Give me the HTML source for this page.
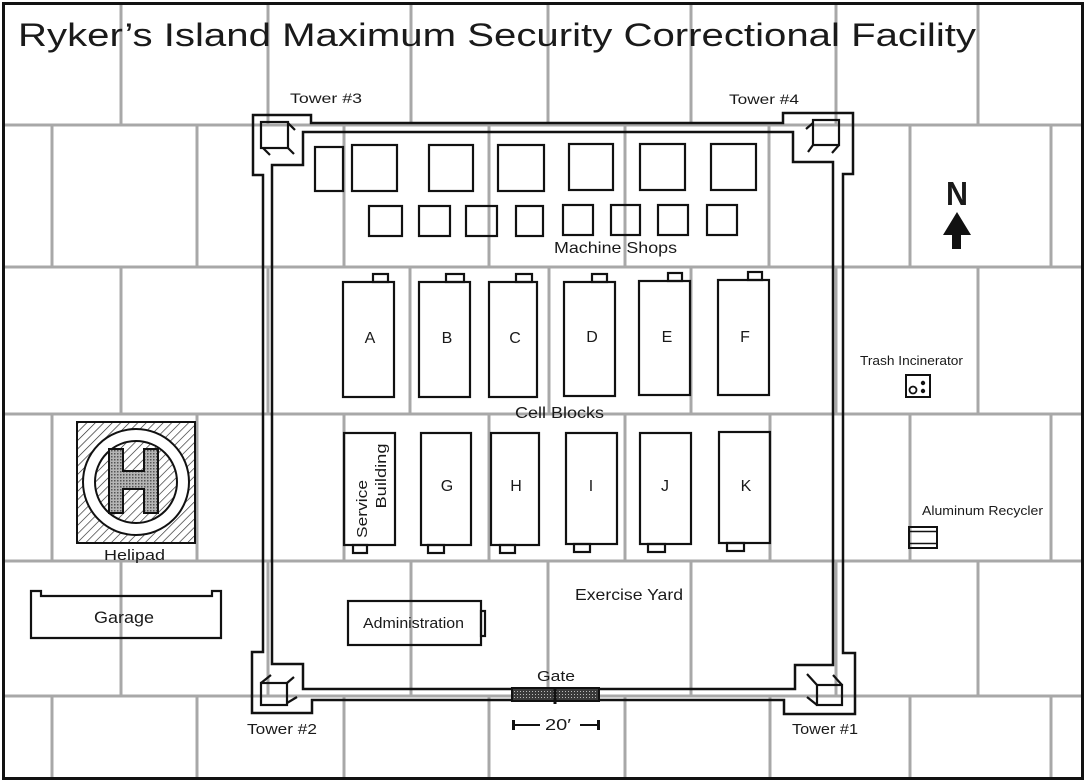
<!DOCTYPE html>
<html>
<head>
<meta charset="utf-8">
<style>
  html, body { margin: 0; padding: 0; background: #fff; }
  svg { display: block; }
  text { font-family: "Liberation Sans", Arial, sans-serif; fill: #1a1a1a; }
</style>
</head>
<body>
<svg width="1086" height="782" viewBox="0 0 1086 782" xmlns="http://www.w3.org/2000/svg">
  <defs>
    <pattern id="hatch" width="6" height="6" patternUnits="userSpaceOnUse" patternTransform="rotate(45)">
      <rect width="6" height="6" fill="#fff"/>
      <line x1="0" y1="0" x2="0" y2="6" stroke="#222" stroke-width="1.3"/>
    </pattern>
    <pattern id="stip" width="3" height="3" patternUnits="userSpaceOnUse">
      <rect width="3" height="3" fill="#b5b5b5"/>
      <rect x="0" y="0" width="1.5" height="1.5" fill="#555"/>
    </pattern>
    <pattern id="gatep" width="3" height="3" patternUnits="userSpaceOnUse">
      <rect width="3" height="3" fill="#3a3a3a"/>
      <rect x="1" y="1" width="1" height="1" fill="#bbb"/>
    </pattern>
  </defs>

  <rect x="0" y="0" width="1086" height="782" fill="#fff"/>

  <!-- grid -->
  <g stroke="#a8a8a8" stroke-width="3" fill="none">
    <path d="M3 125H1083 M3 267H1083 M3 414H1083 M3 561H1083 M3 696H1083"/>
    <!-- row A -->
    <path d="M121 3V125 M268 3V125 M411 3V125 M548 3V125 M691 3V125 M836 3V125 M978 3V125"/>
    <!-- row B -->
    <path d="M52 125V267 M197 125V267 M344 125V267 M489 125V267 M625 125V267 M769 125V267 M910 125V267 M1051 125V267"/>
    <!-- row C -->
    <path d="M121 267V414 M268 267V414 M410 267V414 M549 267V414 M691 267V414 M836 267V414 M978 267V414"/>
    <!-- row D -->
    <path d="M52 414V561 M197 414V561 M344 414V561 M489 414V561 M625 414V561 M770 414V561 M910 414V561 M1051 414V561"/>
    <!-- row E -->
    <path d="M121 561V696 M268 561V696 M411 561V696 M548 561V696 M691 561V696 M836 561V696 M978 561V696"/>
    <!-- row F -->
    <path d="M52 696V779 M197 696V779 M344 696V779 M489 696V779 M625 696V779 M770 696V779 M910 696V779 M1051 696V779"/>
  </g>

  <!-- outer border -->
  <rect x="3.5" y="3.5" width="1079" height="775" fill="none" stroke="#111" stroke-width="3"/>

  <!-- title -->
  <text x="18" y="46" font-size="32" textLength="958" lengthAdjust="spacingAndGlyphs">Ryker’s Island  Maximum Security Correctional Facility</text>

  <!-- prison walls -->
  <g fill="none" stroke="#111" stroke-width="2.5" stroke-linejoin="miter">
    <path d="M253 115 H311 V123 H783 V113 H853 V174 H843 V653 H855 V714 H784 V700 H312 V713 H252 V652 H263 V175 H253 Z"/>
    <path d="M303 132 H793 V162 H833 V665 H795 V689 H303 V664 H272 V165 H303 Z"/>
  </g>

  <!-- towers -->
  <g fill="none" stroke="#111" stroke-width="2.2">
    <!-- Tower 3 -->
    <rect x="261" y="122" width="27" height="26"/>
    <path d="M288 123 L295 130 M263 148 L270 155 M288 148 L294 154"/>
    <!-- Tower 4 -->
    <rect x="813" y="120" width="26" height="25"/>
    <path d="M813 123 L806 129 M813 145 L808 152 M839 145 L832 153"/>
    <!-- Tower 2 -->
    <rect x="261" y="683" width="26" height="22"/>
    <path d="M261 683 L271 675 M287 683 L294 677 M287 703 L297 697"/>
    <!-- Tower 1 -->
    <rect x="817" y="685" width="25" height="20"/>
    <path d="M817 685 L807 674 M842 685 L833 675 M817 705 L807 697"/>
  </g>

  <!-- gate -->
  <rect x="512" y="688" width="87" height="13" fill="url(#gatep)" stroke="#111" stroke-width="2"/>
  <path d="M555 688 V704" stroke="#111" stroke-width="3"/>

  <!-- machine shops -->
  <g fill="none" stroke="#111" stroke-width="2.2">
    <rect x="315" y="147" width="28" height="44"/>
    <rect x="352" y="145" width="45" height="46"/>
    <rect x="429" y="145" width="44" height="46"/>
    <rect x="498" y="145" width="46" height="46"/>
    <rect x="569" y="144" width="44" height="46"/>
    <rect x="640" y="144" width="45" height="46"/>
    <rect x="711" y="144" width="45" height="46"/>

    <rect x="369" y="206" width="33" height="30"/>
    <rect x="419" y="206" width="31" height="30"/>
    <rect x="466" y="206" width="31" height="30"/>
    <rect x="516" y="206" width="27" height="30"/>
    <rect x="563" y="205" width="30" height="30"/>
    <rect x="611" y="205" width="29" height="30"/>
    <rect x="658" y="205" width="30" height="30"/>
    <rect x="707" y="205" width="30" height="30"/>
  </g>

  <!-- cell blocks row 1 -->
  <g fill="none" stroke="#111" stroke-width="2.2">
    <rect x="343" y="282" width="51" height="115"/><rect x="373" y="274" width="15" height="8"/>
    <rect x="419" y="282" width="51" height="115"/><rect x="446" y="274" width="18" height="8"/>
    <rect x="489" y="282" width="48" height="115"/><rect x="516" y="274" width="16" height="8"/>
    <rect x="564" y="282" width="51" height="114"/><rect x="592" y="274" width="15" height="8"/>
    <rect x="639" y="281" width="51" height="114"/><rect x="668" y="273" width="14" height="8"/>
    <rect x="718" y="280" width="51" height="115"/><rect x="748" y="272" width="14" height="8"/>
  </g>

  <!-- cell blocks row 2 -->
  <g fill="none" stroke="#111" stroke-width="2.2">
    <rect x="344" y="433" width="51" height="112"/><rect x="353" y="545" width="14" height="8"/>
    <rect x="421" y="433" width="50" height="112"/><rect x="428" y="545" width="16" height="8"/>
    <rect x="491" y="433" width="48" height="112"/><rect x="500" y="545" width="15" height="8"/>
    <rect x="566" y="433" width="51" height="111"/><rect x="574" y="544" width="16" height="8"/>
    <rect x="640" y="433" width="51" height="111"/><rect x="648" y="544" width="17" height="8"/>
    <rect x="719" y="432" width="51" height="111"/><rect x="727" y="543" width="17" height="8"/>
  </g>

  <!-- block letters -->
  <g font-size="16" text-anchor="middle">
    <text x="370" y="343">A</text>
    <text x="447" y="343">B</text>
    <text x="515" y="343">C</text>
    <text x="592" y="342">D</text>
    <text x="667" y="342">E</text>
    <text x="745" y="342">F</text>
    <text x="447" y="491">G</text>
    <text x="516" y="491">H</text>
    <text x="591" y="491">I</text>
    <text x="665" y="491">J</text>
    <text x="746" y="491">K</text>
  </g>

  <!-- service building text -->
  <text font-size="15" text-anchor="middle" transform="translate(367,509) rotate(-90)" textLength="58" lengthAdjust="spacingAndGlyphs">Service</text>
  <text font-size="15" text-anchor="middle" transform="translate(386,476) rotate(-90)" textLength="65" lengthAdjust="spacingAndGlyphs">Building</text>

  <!-- administration -->
  <g fill="none" stroke="#111" stroke-width="2.2">
    <rect x="348" y="601" width="133" height="44"/>
    <rect x="481" y="611" width="4" height="25"/>
  </g>
  <text x="363" y="628" font-size="14.5" textLength="101" lengthAdjust="spacingAndGlyphs">Administration</text>

  <!-- garage -->
  <path d="M31 591 H41 V596 H212 V591 H221 V638 H31 Z" fill="none" stroke="#111" stroke-width="2.2"/>
  <text x="94" y="623" font-size="17" textLength="60" lengthAdjust="spacingAndGlyphs">Garage</text>

  <!-- helipad -->
  <rect x="77" y="422" width="118" height="121" fill="url(#hatch)" stroke="#111" stroke-width="2"/>
  <circle cx="136" cy="482" r="53" fill="#fff" stroke="#111" stroke-width="2"/>
  <circle cx="136" cy="482" r="41" fill="url(#hatch)" stroke="#111" stroke-width="2"/>
  <path d="M109 449 H123 V471 H144 V449 H158 V513 H144 V489 H123 V513 H109 Z" fill="url(#stip)" stroke="#111" stroke-width="2"/>
  <text x="104" y="560" font-size="15" textLength="61" lengthAdjust="spacingAndGlyphs">Helipad</text>

  <!-- labels -->
  <text x="290" y="103" font-size="14" textLength="72" lengthAdjust="spacingAndGlyphs">Tower #3</text>
  <text x="729" y="104" font-size="14" textLength="70" lengthAdjust="spacingAndGlyphs">Tower #4</text>
  <text x="247" y="734" font-size="15" textLength="70" lengthAdjust="spacingAndGlyphs">Tower #2</text>
  <text x="792" y="734" font-size="15" textLength="66" lengthAdjust="spacingAndGlyphs">Tower #1</text>
  <text x="554" y="253" font-size="16" textLength="123" lengthAdjust="spacingAndGlyphs">Machine Shops</text>
  <text x="515" y="418" font-size="16" textLength="89" lengthAdjust="spacingAndGlyphs">Cell Blocks</text>
  <text x="575" y="600" font-size="16" textLength="108" lengthAdjust="spacingAndGlyphs">Exercise Yard</text>
  <text x="537" y="681" font-size="15" textLength="38" lengthAdjust="spacingAndGlyphs">Gate</text>
  <text x="860" y="365" font-size="12.5" textLength="103" lengthAdjust="spacingAndGlyphs">Trash Incinerator</text>
  <text x="922" y="515" font-size="12.5" textLength="121" lengthAdjust="spacingAndGlyphs">Aluminum Recycler</text>

  <!-- scale bar -->
  <g stroke="#111" fill="#111">
    <path d="M514 725 H540 M580 725 H598" stroke-width="2" fill="none"/>
    <rect x="512" y="720" width="3" height="10" stroke="none"/>
    <rect x="597" y="720" width="3" height="10" stroke="none"/>
  </g>
  <text x="545" y="730" font-size="16" textLength="26" lengthAdjust="spacingAndGlyphs">20′</text>

  <!-- trash incinerator icon -->
  <rect x="906" y="375" width="24" height="22" fill="none" stroke="#111" stroke-width="2"/>
  <circle cx="913" cy="390" r="3.5" fill="none" stroke="#111" stroke-width="1.8"/>
  <circle cx="923" cy="383" r="2.2" fill="#111"/>
  <circle cx="923" cy="391" r="2.2" fill="#111"/>

  <!-- aluminum recycler icon -->
  <rect x="909" y="527" width="28" height="21" fill="none" stroke="#111" stroke-width="2"/>
  <path d="M909 531.5 H937 M909 543.5 H937" stroke="#111" stroke-width="1.6"/>

  <!-- north arrow -->
  <text x="957" y="205" font-size="33" font-weight="bold" text-anchor="middle" textLength="22" lengthAdjust="spacingAndGlyphs">N</text>
  <polygon points="957,212 943,235 952,235 952,249 961,249 961,235 971,235" fill="#111"/>
</svg>
</body>
</html>
